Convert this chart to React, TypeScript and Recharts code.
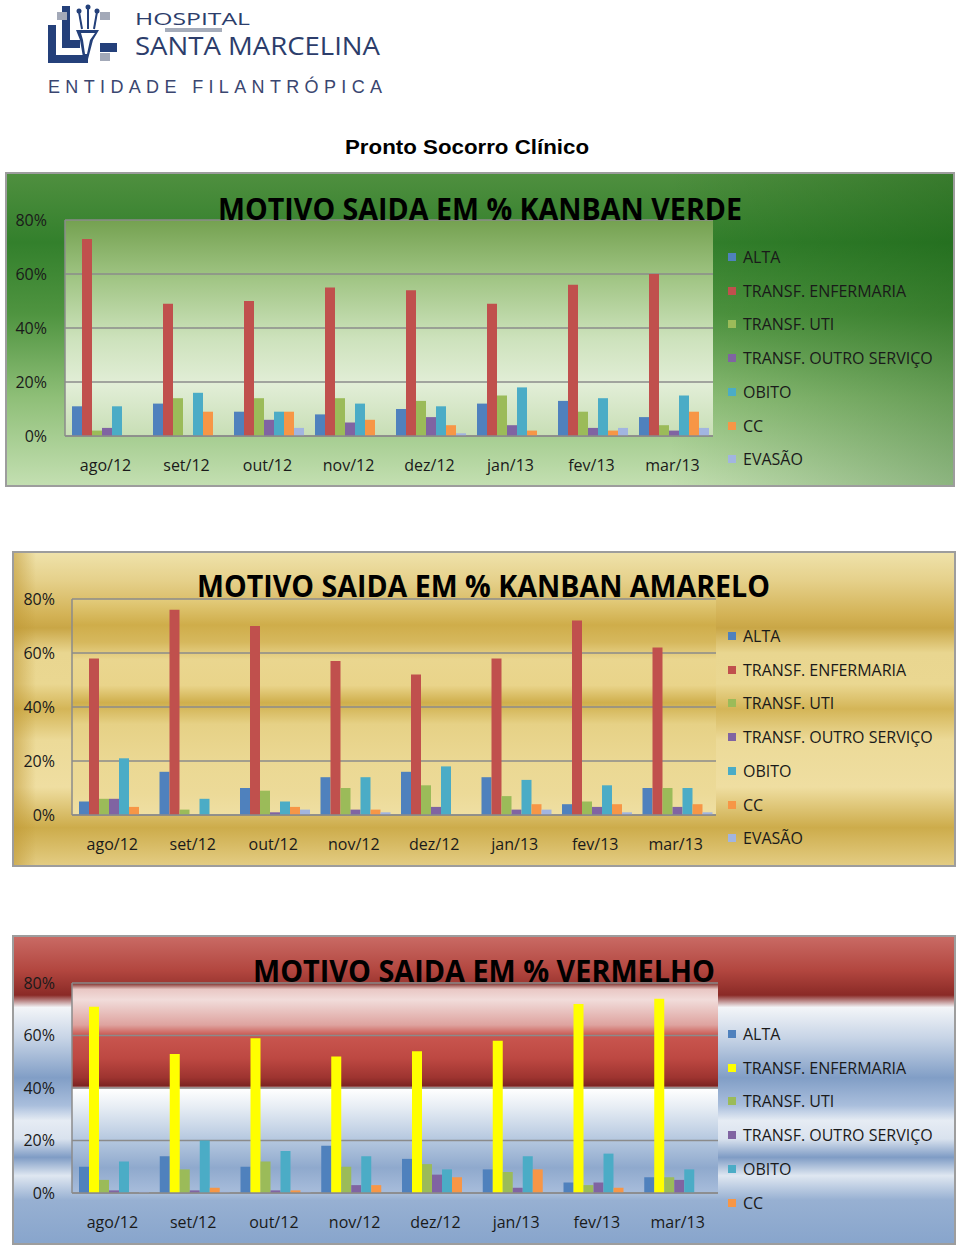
import React from "react";
import { BarChart, Bar, XAxis, YAxis, CartesianGrid } from "recharts";

const meses = ["ago/12", "set/12", "out/12", "nov/12", "dez/12", "jan/13", "fev/13", "mar/13"];
const nomesSeries = ["ALTA", "TRANSF. ENFERMARIA", "TRANSF. UTI", "TRANSF. OUTRO SERVIÇO", "OBITO", "CC", "EVASÃO"];
const coresPadrao = ["#4F81BD", "#C0504D", "#9BBB59", "#8064A2", "#4BACC6", "#F79646", "#A2B5E0"];
const coresVermelho = ["#4F81BD", "#FFFF00", "#9BBB59", "#8064A2", "#4BACC6", "#F79646", "#A2B5E0"];
const yTicks = [0, 20, 40, 60, 80];

// KANBAN VERDE (%)
const verdeAlta = [11, 12, 9, 8, 10, 12, 13, 7];
const verdeEnf = [73, 49, 50, 55, 54, 49, 56, 60];
const verdeUti = [2, 14, 14, 14, 13, 15, 9, 4];
const verdeOutro = [3, 0, 6, 5, 7, 4, 3, 2];
const verdeObito = [11, 16, 9, 12, 11, 18, 14, 15];
const verdeCc = [0, 9, 9, 6, 4, 2, 2, 9];
const verdeEvasao = [0, 0, 3, 0, 1, 0, 3, 3];

// KANBAN AMARELO (%)
const amareloAlta = [5, 16, 10, 14, 16, 14, 4, 10];
const amareloEnf = [58, 76, 70, 57, 52, 58, 72, 62];
const amareloUti = [6, 2, 9, 10, 11, 7, 5, 10];
const amareloOutro = [6, 0, 1, 2, 3, 2, 3, 3];
const amareloObito = [21, 6, 5, 14, 18, 13, 11, 10];
const amareloCc = [3, 0, 3, 2, 0, 4, 4, 4];
const amareloEvasao = [0, 0, 2, 1, 0, 2, 1, 1];

// VERMELHO (%)
const vermelhoAlta = [10, 14, 10, 18, 13, 9, 4, 6];
const vermelhoEnf = [71, 53, 59, 52, 54, 58, 72, 74];
const vermelhoUti = [5, 9, 12, 10, 11, 8, 3, 6];
const vermelhoOutro = [1, 1, 1, 3, 7, 2, 4, 5];
const vermelhoObito = [12, 20, 16, 14, 9, 14, 15, 9];
const vermelhoCc = [0, 2, 1, 3, 6, 9, 2, 0];
const vermelhoEvasao = [0.5, 0.5, 0.5, 0, 0, 0, 0, 0];

function montar(cols: number[][]) {
  return meses.map((m, i) => {
    const row: any = { mes: m };
    cols.forEach((c, j) => {
      row["s" + j] = c[i];
    });
    return row;
  });
}

const FONT = "'Open Sans', sans-serif";
const GRID = "#8b8b8b";

function Painel({ box, plot, outerBg, plotBg, data, cores, legendTop, legendCount, yMargin }: any) {
  const PAD = 10;
  const XH = 44;
  const YW = 70;
  return (
    <>
      <div
        style={{
          position: "absolute",
          left: box.x,
          top: box.y,
          width: box.w,
          height: box.h,
          boxSizing: "border-box",
          border: "2px solid #9d9d9d",
          background: outerBg,
        }}
      />
      <div
        style={{
          position: "absolute",
          left: plot.l,
          top: plot.t,
          width: plot.r - plot.l,
          height: plot.b - plot.t,
          background: plotBg,
        }}
      />
      <div style={{ position: "absolute", left: 0, top: plot.t - PAD }}>
        <BarChart
          width={plot.r + PAD}
          height={plot.b - plot.t + PAD + XH + PAD}
          data={data}
          margin={{ top: PAD, right: PAD, bottom: PAD, left: plot.l - YW }}
          barCategoryGap={7}
          barGap={0}
        >
          <CartesianGrid vertical={false} stroke={GRID} strokeWidth={1.5} />
          <XAxis
            dataKey="mes"
            height={XH}
            interval={0}
            tickLine={false}
            tickSize={0}
            tickMargin={24}
            axisLine={{ stroke: GRID, strokeWidth: 1.5 }}
            tick={{ fill: "#1a1a1a", fontSize: 16, fontFamily: FONT }}
          />
          <YAxis
            width={YW}
            domain={[0, 80]}
            ticks={yTicks}
            tickFormatter={(v: number) => `${v}%`}
            tickLine={false}
            tickSize={0}
            tickMargin={yMargin}
            axisLine={{ stroke: GRID, strokeWidth: 1.5 }}
            tick={{ fill: "#1a1a1a", fontSize: 16, fontFamily: FONT }}
          />
          {nomesSeries.map((n, i) => (
            <Bar key={n} dataKey={"s" + i} name={n} fill={cores[i]} isAnimationActive={false} />
          ))}
        </BarChart>
      </div>
      {nomesSeries.slice(0, legendCount).map((n, i) => {
        const cy = legendTop + i * 33.7;
        return (
          <div key={n} style={{ position: "absolute", left: 728, top: cy - 11, height: 22, display: "flex", alignItems: "center" }}>
            <div style={{ width: 8, height: 8, background: cores[i], marginRight: 7 }} />
            <span style={{ fontFamily: FONT, fontSize: 16, color: "#1a1a1a", lineHeight: "22px", whiteSpace: "nowrap" }}>{n}</span>
          </div>
        );
      })}
    </>
  );
}

export default function App() {
  const dadosVerde = montar([verdeAlta, verdeEnf, verdeUti, verdeOutro, verdeObito, verdeCc, verdeEvasao]);
  const dadosAmarelo = montar([amareloAlta, amareloEnf, amareloUti, amareloOutro, amareloObito, amareloCc, amareloEvasao]);
  const dadosVermelho = montar([vermelhoAlta, vermelhoEnf, vermelhoUti, vermelhoOutro, vermelhoObito, vermelhoCc, vermelhoEvasao]);

  const verdeOuter =
    "linear-gradient(to right, rgba(0,60,0,0) 0%, rgba(0,60,0,0) 70%, rgba(0,70,0,0.28) 100%), linear-gradient(to bottom, #4f8f3f 0%, #33802c 22%, #4f9440 45%, #8fbf78 72%, #c3dfb1 100%)";
  const verdePlot = "linear-gradient(to bottom, #74a150 0%, #a2c686 28%, #cde2bc 55%, #e2eed7 76%, #c8deb5 100%)";
  const amareloOuter =
    "linear-gradient(to right, rgba(190,150,50,0.55) 0px, rgba(190,150,50,0) 22px), linear-gradient(to bottom, #efe2aa 0%, #e5d08a 9%, #d3b255 20%, #c9a646 24%, #e9d690 32%, #ead791 42%, #d4b557 50%, #ecda98 60%, #efdea1 75%, #cdac4b 88%, #e3cc82 100%)";
  const amareloPlot =
    "linear-gradient(to bottom, #e3cc7c 0%, #cfad4a 12%, #d6b85d 20%, #ead68f 28%, #e9d48a 40%, #cfaf4d 48%, #e6d186 58%, #ebd893 75%, #ecda98 90%, #efdfa3 100%)";
  const vermelhoOuter =
    "linear-gradient(to bottom, #c96a64 0%, #b2463f 11%, #8a2a26 19%, #f3f5f8 23%, #c7d4e6 33%, #819ec6 46%, #a9bedc 55%, #e6ecf4 60%, #d9e2ee 66%, #7f9cc5 72%, #dfe7f1 78%, #97b0d2 86%, #88a5cc 100%)";
  const vermelhoPlot =
    "linear-gradient(to bottom, #7a2622 0%, #e9c7c4 3%, #f1dcda 8%, #dea39f 20%, #c9564f 25%, #bd4842 36%, #9e3430 45%, #7c2421 49%, #ffffff 50.5%, #e4ebf3 60%, #b4c7df 75%, #8fa9cd 88%, #a8bddb 100%)";

  return (
    <div style={{ position: "absolute", left: 0, top: 0, width: 960, height: 1249, background: "#ffffff", overflow: "hidden" }}>
      {/* logo */}
      <svg style={{ position: "absolute", left: 0, top: 0 }} width={400} height={100}>
        <g fill="#24407A">
          <rect x={48} y={25} width={8} height={38} />
          <rect x={48} y={55} width={40} height={8} />
          <rect x={62} y={6} width={8} height={42} />
          <rect x={62} y={40} width={18} height={8} />
          <rect x={100} y={43} width={17} height={9} />
          <polygon points="76,30 99,30 93,40 87,63 84,63 80,40" />
        </g>
        <g fill="#A3A9B8">
          <rect x={57} y={12} width={10} height={8} />
          <rect x={100} y={12} width={10} height={8} />
          <rect x={100} y={53} width={10} height={8} />
        </g>
        <g stroke="#24407A" strokeWidth={2}>
          <line x1={79} y1={12} x2={82} y2={29} />
          <line x1={88} y1={8} x2={88} y2={29} />
          <line x1={97} y1={12} x2={94} y2={29} />
        </g>
        <g fill="#24407A">
          <circle cx={79} cy={11} r={2.5} />
          <circle cx={88} cy={7} r={2.5} />
          <circle cx={97} cy={11} r={2.5} />
        </g>
        <polygon points="81,33 95,33 90,40 87,54 85,54 83,40" fill="#ffffff" />
        <text x={135} y={25} fontFamily={FONT} fontSize={17} fill="#2C3D6B" textLength={115} lengthAdjust="spacingAndGlyphs">HOSPITAL</text>
        <rect x={165} y={28} width={57} height={4} fill="#A5ACBA" />
        <text x={135} y={55} fontFamily={FONT} fontSize={25} fill="#2C3D6B" textLength={245} lengthAdjust="spacingAndGlyphs">SANTA MARCELINA</text>
        <text x={48} y={93} fontFamily="'Liberation Sans', sans-serif" fontSize={18} fill="#3A4670" textLength={334} lengthAdjust="spacing">ENTIDADE FILANTRÓPICA</text>
      </svg>

      <Painel
        box={{ x: 5, y: 172, w: 950, h: 315 }}
        plot={{ l: 65, r: 713, t: 220, b: 436 }}
        outerBg={verdeOuter}
        plotBg={verdePlot}
        data={dadosVerde}
        cores={coresPadrao}
        legendTop={257}
        legendCount={7}
        yMargin={18}
      />
      <Painel
        box={{ x: 12, y: 551, w: 944, h: 316 }}
        plot={{ l: 72, r: 716, t: 599, b: 815 }}
        outerBg={amareloOuter}
        plotBg={amareloPlot}
        data={dadosAmarelo}
        cores={coresPadrao}
        legendTop={636}
        legendCount={7}
        yMargin={17}
      />
      <Painel
        box={{ x: 12, y: 935, w: 944, h: 310 }}
        plot={{ l: 72, r: 718, t: 983, b: 1193 }}
        outerBg={vermelhoOuter}
        plotBg={vermelhoPlot}
        data={dadosVermelho}
        cores={coresVermelho}
        legendTop={1034}
        legendCount={6}
        yMargin={17}
      />

      <svg style={{ position: "absolute", left: 0, top: 0, pointerEvents: "none" }} width={960} height={1249}>
        <text x={345} y={154} fontFamily="'Liberation Sans', Arial, sans-serif" fontWeight={700} fontSize={21} fill="#000" textLength={244} lengthAdjust="spacingAndGlyphs">
          Pronto Socorro Clínico
        </text>
        <text x={218} y={220} fontFamily={FONT} fontWeight={700} fontSize={31} fill="#000" textLength={524} lengthAdjust="spacingAndGlyphs">
          MOTIVO SAIDA EM % KANBAN VERDE
        </text>
        <text x={197} y={597} fontFamily={FONT} fontWeight={700} fontSize={31} fill="#000" textLength={573} lengthAdjust="spacingAndGlyphs">
          MOTIVO SAIDA EM % KANBAN AMARELO
        </text>
        <text x={253} y={982} fontFamily={FONT} fontWeight={700} fontSize={31} fill="#000" textLength={462} lengthAdjust="spacingAndGlyphs">
          MOTIVO SAIDA EM % VERMELHO
        </text>
      </svg>
    </div>
  );
}
